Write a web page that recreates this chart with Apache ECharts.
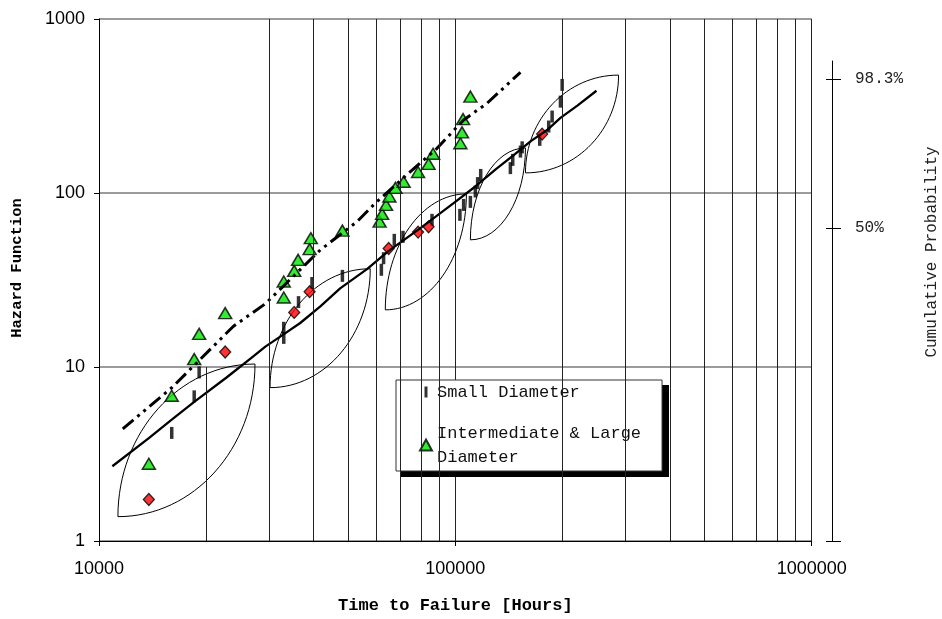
<!DOCTYPE html>
<html>
<head>
<meta charset="utf-8">
<script src="https://cdn.jsdelivr.net/npm/echarts@6/dist/echarts.min.js"></script>
<style>
  html, body { margin: 0; padding: 0; background: #fff; }
  #chart { width: 942px; height: 619px; }
</style>
</head>
<body>
<div id="chart"></div>
<script>
// Small diameter failures: [time to failure (h), cumulative hazard (%)]
const smallDiameter = [
  [16000, 4.18], [18500, 6.78], [19100, 9.31], [33000, 14.7], [33000, 16.8],
  [36300, 23.6], [39600, 30.4], [48200, 33.4], [62000, 36.2], [62900, 42.2],
  [67400, 53.8], [71300, 56.0], [86000, 70.1], [103000, 74.9], [105500, 85.4],
  [110200, 88.9], [113800, 102], [115500, 114], [117800, 127], [142700, 139],
  [144900, 155], [152300, 173], [154000, 183], [172500, 202], [182800, 241],
  [186900, 275], [197200, 335], [199400, 418]
];

// Intermediate & large diameter failures
const largeDiameter = [
  [13800, 2.78], [16000, 6.84], [18500, 11.1], [19100, 15.5], [22600, 20.4],
  [33000, 25.1], [33000, 31.0], [35300, 35.7], [36200, 41.3], [39000, 47.6],
  [39300, 55.0], [48200, 60.8], [61300, 68.5], [62300, 75.9], [63900, 85.4],
  [65300, 95.4], [67900, 107], [71600, 116], [78600, 132], [84100, 147],
  [86600, 168], [103300, 193], [104400, 223], [105100, 266], [110200, 358]
];

// Highlighted failures
const highlighted = [
  [13800, 1.73], [22600, 12.2], [35300, 20.6], [39000, 27.1],
  [65000, 48.0], [78600, 59.6], [84100, 63.9], [175200, 218]
];

// Fitted hazard lines
const smallFit = [
  [10900, 2.69], [13800, 3.9], [16000, 4.98], [18500, 6.3], [22800, 8.7],
  [27100, 11.5], [29300, 13.1], [32800, 15.3], [36700, 17.9], [41800, 22.3],
  [47500, 28.3], [56500, 36.5], [65000, 46.5], [79800, 62.8], [98900, 87.4],
  [113800, 109], [130000, 137], [145800, 165], [162500, 198], [180900, 230],
  [197200, 270], [220000, 318], [248900, 387]
];
const largeFit = [
  [11660, 4.41], [16000, 7.6], [23800, 17.1], [29300, 23.1], [41800, 47.1],
  [53000, 68.5], [59600, 87.4], [74800, 132.7], [87900, 176.8], [105500, 262.9],
  [122700, 327.7], [152300, 494]
];

// Envelope lenses: [lower-left time, lower-left hazard, upper-right time, upper-right hazard]
const lenses = [
  [11300, 1.38, 27400, 10.4],
  [30200, 7.61, 57700, 36.7],
  [63600, 21.3, 107400, 98.8],
  [110200, 53.8, 157300, 181.5],
  [157300, 130.5, 287100, 476]
];

// Intermediate vertical grid lines
const minorGridX = [30000, 40000, 50000, 60000, 70000, 80000, 90000,
  200000, 300000, 400000, 500000, 600000, 700000, 800000, 900000];
const shortGridX = 20000;          // drawn only across the lowest decade
const shortGridSpan = [1, 10];

// Cumulative probability ticks on the secondary scale
const probTicks = [0.5, 0.983];
const probAxisRange = [0.2226, 2.703];
// position on the secondary scale: log10 of the cumulative hazard in percent
const probPos = p => Math.log10(-Math.log(1 - p) * 100);
const probTickValues = [probAxisRange[0]].concat(probTicks.map(probPos));

const mono = 'Liberation Mono';
const sans = 'Liberation Sans';
const plain = v => String(Math.round(v));

const chart = echarts.init(document.getElementById('chart'), null, { renderer: 'canvas' });

const option = {
  animation: false,
  backgroundColor: '#fff',
  grid: [
    { left: 99, right: 130.3, top: 19, bottom: 77.5 },
    // narrow strip holding the probability scale; its split lines form the crossing ticks
    { left: 826, width: 15, top: 61, bottom: 77.5 }
  ],
  legend: {
    left: 396, top: 380,
    orient: 'vertical',
    backgroundColor: '#fff',
    borderColor: '#333', borderWidth: 1,
    padding: [0, 21, 2, 23],
    itemGap: 17,
    itemWidth: 12, itemHeight: 11,
    symbolKeepAspect: true,
    formatter: name => name.replace('& Large ', '& Large\n'),
    textStyle: { fontFamily: mono, fontSize: 17, color: '#111', lineHeight: 24 },
    data: [
      { name: 'Small Diameter', icon: 'path://M0,0 L3,0 L3,11 L0,11 Z', itemStyle: { color: '#000', borderWidth: 0 } },
      { name: 'Intermediate & Large Diameter', icon: 'triangle' }
    ]
  },
  xAxis: [
    {
      type: 'log', logBase: 10, min: 10000, max: 1000000, gridIndex: 0,
      name: 'Time to Failure [Hours]', nameLocation: 'middle', nameGap: 56,
      nameTextStyle: { fontFamily: mono, fontWeight: 'bold', fontSize: 17, color: '#000' },
      axisLine: { lineStyle: { color: '#000', width: 1 } },
      axisTick: { length: 5, lineStyle: { color: '#000' } },
      axisLabel: { fontFamily: sans, fontSize: 18, color: '#000', margin: 19, formatter: plain },
      splitLine: { show: true, lineStyle: { color: '#222', width: 1 } },
      minorTick: { show: false }
    },
    { type: 'value', gridIndex: 1, show: false, min: 0, max: 1 }
  ],
  yAxis: [
    {
      type: 'log', logBase: 10, min: 1, max: 1000, gridIndex: 0,
      name: 'Hazard Function', nameLocation: 'middle', nameGap: 74, nameRotate: 90,
      nameTextStyle: { fontFamily: mono, fontWeight: 'bold', fontSize: 15.5, color: '#000', padding: [0, 0, 0, 24] },
      axisLine: { show: true, lineStyle: { color: '#000', width: 1 } },
      axisTick: { length: 5, lineStyle: { color: '#000' } },
      axisLabel: { fontFamily: sans, fontSize: 18, color: '#000', margin: 14, formatter: plain },
      splitLine: { show: true, lineStyle: { color: '#7a7a7a', width: 1.5 } }
    },
    {
      type: 'value', gridIndex: 1, position: 'left', offset: -6,
      min: probAxisRange[0], max: probAxisRange[1],
      axisLine: { show: true, onZero: false, lineStyle: { color: '#000', width: 1 } },
      axisTick: { show: false, customValues: probTickValues },
      axisLabel: {
        inside: true,
        fontFamily: mono, fontSize: 16, color: '#222', margin: 23,
        customValues: probTicks.map(probPos),
        formatter: v => {
          let best = 0;
          probTicks.forEach((p, i) => { if (Math.abs(probPos(p) - v) < Math.abs(probPos(probTicks[best]) - v)) best = i; });
          return +(probTicks[best] * 100).toFixed(1) + '%';
        }
      },
      splitLine: { show: true, showMinLine: true, showMaxLine: true, lineStyle: { color: '#000', width: 1 } }
    }
  ],
  graphic: [
    {
      // drop shadow behind the legend box
      type: 'rect', z: 3, silent: true,
      shape: { x: 401, y: 385, width: 268, height: 92 },
      style: { fill: '#000' }
    },
    {
      type: 'text', x: 932, y: 252, rotation: Math.PI / 2,
      style: { text: 'Cumulative Probability', fontFamily: mono, fontSize: 16, fill: '#222', align: 'center', verticalAlign: 'middle' }
    }
  ],
  series: [
    {
      // intermediate grid lines
      type: 'line', data: [], silent: true, xAxisIndex: 0, yAxisIndex: 0,
      markLine: {
        silent: true, symbol: ['none', 'none'], animation: false,
        label: { show: false },
        lineStyle: { color: '#222', width: 1, type: 'solid' },
        emphasis: { disabled: true },
        data: minorGridX.map(v => ({ xAxis: v })).concat([
          [{ coord: [shortGridX, shortGridSpan[0]] }, { coord: [shortGridX, shortGridSpan[1]] }]
        ])
      }
    },
    {
      name: 'Small Diameter', type: 'scatter', data: smallDiameter,
      symbol: 'rect', symbolSize: [3.5, 12],
      itemStyle: { color: '#000' }
    },
    {
      name: 'Intermediate & Large Diameter', type: 'scatter', data: largeDiameter,
      symbol: 'triangle', symbolSize: [13, 11],
      itemStyle: { color: '#00e600', borderColor: '#000', borderWidth: 1.5 }
    },
    {
      name: 'highlighted', type: 'scatter', data: highlighted,
      symbol: 'diamond', symbolSize: [11, 12],
      itemStyle: { color: '#ff0000', borderColor: '#000', borderWidth: 1.3 }
    },
    {
      name: 'envelope', type: 'custom', data: lenses,
      encode: { x: [0, 2], y: [1, 3] },
      silent: true,
      renderItem: function (params, api) {
        const p0 = api.coord([api.value(0), api.value(1)]);
        const p1 = api.coord([api.value(2), api.value(3)]);
        const w = p1[0] - p0[0], h = p0[1] - p1[1], k = 0.5523;
        const style = { stroke: '#000', lineWidth: 1, fill: 'none' };
        return {
          type: 'group',
          children: [
            { type: 'bezierCurve', shape: { x1: p0[0], y1: p0[1], cpx1: p0[0], cpy1: p0[1] - k * h,
              cpx2: p1[0] - k * w, cpy2: p1[1], x2: p1[0], y2: p1[1] }, style: style },
            { type: 'bezierCurve', shape: { x1: p0[0], y1: p0[1], cpx1: p0[0] + k * w, cpy1: p0[1],
              cpx2: p1[0], cpy2: p1[1] + k * h, x2: p1[0], y2: p1[1] }, style: style }
          ]
        };
      }
    },
    {
      name: 'small fit', type: 'line', data: smallFit, showSymbol: false, silent: true,
      lineStyle: { color: '#000', width: 2.3 }
    },
    {
      name: 'large fit', type: 'line', data: largeFit, showSymbol: false, silent: true,
      lineStyle: { color: '#000', width: 3, type: [14, 5, 3, 5, 3, 5], cap: 'butt' }
    }
  ]
};

chart.setOption(option);
</script>
</body>
</html>
